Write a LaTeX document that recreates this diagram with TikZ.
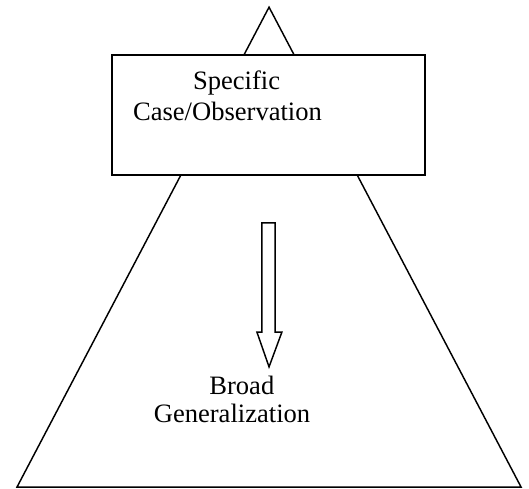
\documentclass[tikz,border=0pt]{standalone}
\usepackage{fontspec}
\setmainfont{Liberation Serif}
\usepackage{tikz}

\tikzset{
    lbl/.style={font=\fontsize{20}{24}\selectfont, anchor=base, inner sep=0pt},
    edge/.style={line width=1.1pt, black}
}

\begin{document}
\begin{tikzpicture}
        \useasboundingbox (0,0) rectangle (14,12.94);

        \coordinate (A) at (7.12,12.75);
        \coordinate (B) at (0.45,0.05);
        \coordinate (C) at (13.79,0.05);
        \coordinate (D) at (2.96,8.31);
        \coordinate (E) at (11.25,11.48);
        % hollow arrow
        \coordinate (F) at (6.93,7.04);
        \coordinate (G) at (7.28,7.04);
        \coordinate (H) at (7.28,4.15);
        \coordinate (K) at (7.46,4.15);
        \coordinate (L) at (7.12,3.23);
        \coordinate (N) at (6.80,4.15);
        \coordinate (P) at (6.93,4.15);

        \draw[edge] (A) -- (B) -- (C) -- cycle;
        \draw[edge, fill=white] (D) rectangle (E);
        \draw[edge] (F) -- (G) -- (H) -- (K) -- (L) -- (N) -- (P) -- cycle;

        \node[lbl] (spec) at (6.26,10.56) {Specific};
        \node[lbl] (obs) at (6.02,9.76) {Case/Observation};
        \node[lbl] (broad) at (6.40,2.51) {Broad};
        \node[lbl] (gen) at (6.14,1.75) {Generalization};
    \end{tikzpicture}
\end{document}
